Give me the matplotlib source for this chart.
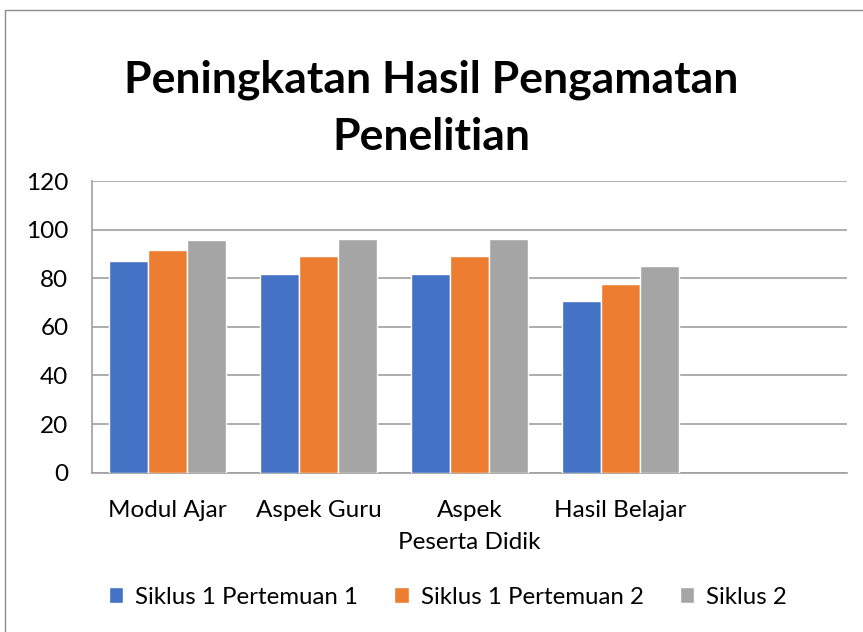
import matplotlib.pyplot as plt
import matplotlib.patches as mpatches
import numpy as np

plt.rcParams['font.family'] = ['Lato', 'DejaVu Sans']

kategori = ["Modul Ajar", "Aspek Guru", "Aspek\nPeserta Didik", "Hasil Belajar"]
seri = ["Siklus 1 Pertemuan 1", "Siklus 1 Pertemuan 2", "Siklus 2"]
siklus1_p1 = [87.2, 81.9, 81.9, 70.7]
siklus1_p2 = [91.5, 89.0, 89.0, 77.7]
siklus2 = [95.6, 96.2, 96.2, 85.1]
warna = ["#4472c4", "#ed7d31", "#a5a5a5"]

fig = plt.figure(figsize=(8.63, 6.32), dpi=100)
ax = fig.add_axes([92 / 863, 1 - 472.7 / 632, 755 / 863, 291.7 / 632])

# bingkai luar seperti di Excel
fig.patches.append(mpatches.Rectangle((5 / 863, -0.1), 1.2, 1 - 10 / 632 + 0.1,
                                      transform=fig.transFigure, fill=False,
                                      edgecolor="#8c8c8c", linewidth=1))

x = np.arange(len(kategori))
lebar = 0.26
for i, (nilai, nama) in enumerate(zip([siklus1_p1, siklus1_p2, siklus2], seri)):
    ax.bar(x + (i - 1) * lebar, nilai, lebar, color=warna[i], label=nama,
           edgecolor="white", linewidth=1, zorder=3)

ax.set_xlim(-0.5, 4.5)
ax.set_ylim(0, 120)
ax.set_yticks(range(0, 121, 20))
ax.set_xticks(x)
ax.set_xticklabels(kategori, fontsize=17.5, linespacing=1.62)
ax.tick_params(axis='y', labelsize=17.5, length=0, pad=17)
ax.tick_params(axis='x', length=0, pad=20)
ax.yaxis.grid(True, color="#a0a0a0", linewidth=1.2, zorder=0)
ax.set_axisbelow(True)
for s in ["top", "right"]:
    ax.spines[s].set_visible(False)
ax.spines["left"].set_color("#a0a0a0")
ax.spines["bottom"].set_color("#a0a0a0")
ax.spines["left"].set_linewidth(1.2)
ax.spines["bottom"].set_linewidth(1.2)

fig.text(0.5, 1 - 80 / 632, "Peningkatan Hasil Pengamatan", ha="center", va="center",
         fontsize=32, fontweight="bold")
fig.text(0.5, 1 - 137 / 632, "Penelitian", ha="center", va="center",
         fontsize=32, fontweight="bold")

fig.legend(loc="center", bbox_to_anchor=(0.519, 1 - 597 / 632), ncol=3, frameon=False,
           fontsize=17.3, handlelength=0.6, handleheight=0.6, columnspacing=1.5,
           handletextpad=0.5)

fig.savefig("out.png", dpi=100)
